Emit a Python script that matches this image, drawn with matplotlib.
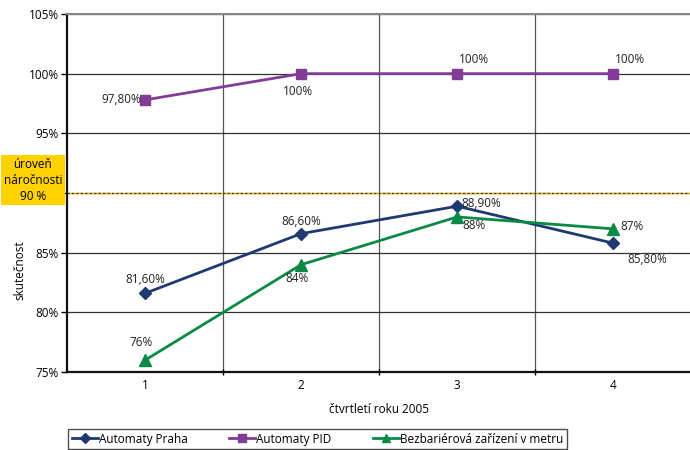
import numpy as np
import matplotlib.pyplot as plt

quarters = [1, 2, 3, 4]
praha = [81.6, 86.6, 88.9, 85.8]
pid = [97.8, 100, 100, 100]
bezbar = [76, 84, 88, 87]
praha_lbl = ["81,60%", "86,60%", "88,90%", "85,80%"]
pid_lbl = ["97,80%", "100%", "100%", "100%"]
bezbar_lbl = ["76%", "84%", "88%", "87%"]
threshold = 90

plt.rcParams['font.family'] = ['Open Sans', 'DejaVu Sans']
plt.rcParams['font.size'] = 8.5

fig = plt.figure(figsize=(6.9, 4.5), dpi=100)
ax = fig.add_axes([0.097, 0.173, 0.905, 0.796])

c_praha = '#1f3a70'
c_pid = '#833c96'
c_bez = '#0a8a45'

# threshold line
ax.axhline(threshold, color='#f0c000', lw=1.0, zorder=2)
ax.axhline(threshold, color='#333333', lw=0.8, ls=(0, (2, 2)), zorder=2)

ax.plot(quarters, praha, color=c_praha, lw=2, marker='D', ms=6, label='Automaty Praha', zorder=4)
ax.plot(quarters, pid, color=c_pid, lw=2, marker='s', ms=6.5, label='Automaty PID', zorder=4)
ax.plot(quarters, bezbar, color=c_bez, lw=2, marker='^', ms=8, label='Bezbariérová zařízení v metru', zorder=4)

# data labels (offsets in points)
praha_off = [(0, 10, 'center'), (0, 9, 'center'), (3, 2, 'left'), (10, -12, 'left')]
pid_off = [(-3, 0, 'right'), (-2, -13, 'center'), (12, 10, 'center'), (12, 10, 'center')]
bez_off = [(-3, 13, 'center'), (-3, -10, 'center'), (12, -6, 'center'), (5, 2, 'left')]
for xs, ys, labels, offs in [(quarters, praha, praha_lbl, praha_off),
                             (quarters, pid, pid_lbl, pid_off),
                             (quarters, bezbar, bezbar_lbl, bez_off)]:
    for x, y, t, (dx, dy, ha) in zip(xs, ys, labels, offs):
        ax.annotate(t, (x, y), xytext=(dx, dy), textcoords='offset points',
                    ha=ha, va='center', color='#222222', zorder=5)

ax.set_xlim(0.5, 4.5)
ax.set_ylim(75, 105)
ax.set_yticks(np.arange(75, 106, 5))
ax.set_yticklabels([f"{v}%" for v in range(75, 106, 5)])
ax.set_xticks(quarters)
ax.set_xticks([1.5, 2.5, 3.5], minor=True)
ax.tick_params(axis='x', which='major', length=0, pad=5)
ax.tick_params(axis='x', which='minor', length=4, direction='inout', width=1)
ax.tick_params(axis='y', length=4, direction='out', width=1, pad=2)

ax.grid(axis='y', color='#333333', lw=0.9)
ax.grid(axis='x', which='minor', color='#555555', lw=0.9)
ax.set_axisbelow(True)

for s in ['left', 'bottom']:
    ax.spines[s].set_color('#111111')
    ax.spines[s].set_linewidth(1.6)
for s in ['top', 'right']:
    ax.spines[s].set_color('#888888')
    ax.spines[s].set_linewidth(1.5)

ax.set_xlabel('čtvrtletí roku 2005')
ax.xaxis.set_label_coords(0.5, -0.085)
ax.set_ylabel('skutečnost')
ax.yaxis.set_label_coords(-0.065, 0.285)

# threshold box
fig.text(33 / 690, 1 - 180 / 450, 'úroveň\nnáročnosti\n90 %', ha='center', va='center',
         multialignment='center', linespacing=1.3,
         bbox=dict(boxstyle='square,pad=0.25', fc='#ffd200', ec='none'))

fig.legend(loc='upper left', bbox_to_anchor=(68 / 690, 1 - 429 / 450), ncol=3,
           frameon=True, fancybox=False, edgecolor='#222222', borderpad=0.3,
           handlelength=2.2, columnspacing=3.5, handletextpad=0.1, borderaxespad=0,
           markerscale=0.8)

fig.savefig('out.png', dpi=100)
